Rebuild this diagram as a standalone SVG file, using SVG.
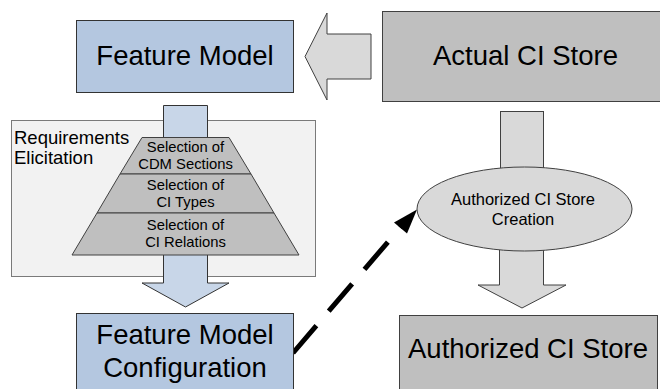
<svg xmlns="http://www.w3.org/2000/svg" width="660" height="389" viewBox="0 0 660 389">
<defs>
<style>
text{font-family:"Liberation Sans",Arial,sans-serif;fill:#000;text-anchor:middle}
.blue{fill:#b4c7e0;stroke:#333;stroke-width:1}
.gray{fill:#bfbfbf;stroke:#404040;stroke-width:1}
.lgray{fill:#d9d9d9;stroke:#404040;stroke-width:1}
.barrow{fill:#c8d6e8;stroke:#333;stroke-width:1}
.big{font-size:27.5px}
.pyr{font-size:14.8px}
</style>
</defs>
<rect width="660" height="389" fill="#fff"/>

<g id="requirements-elicitation">
<rect x="11.5" y="120.5" width="304" height="156" fill="#f2f2f2" stroke="#7a7a7a" stroke-width="1"/>
<text x="14" y="144" font-size="18.5" style="text-anchor:start">Requirements</text>
<text x="14" y="164" font-size="18.5" style="text-anchor:start">Elicitation</text>
</g>

<g id="connectors">
<polygon class="lgray" points="371,34 327,34 327,13 305,56.5 327,100 327,79 371,79"/>
<rect class="lgray" x="500.5" y="111.5" width="43" height="90"/>
<polygon class="lgray" points="499.5,235 543.5,235 543.5,285 566,285 522,308 478,285 499.5,285"/>
<polygon class="barrow" points="163.5,105.5 207.5,105.5 207.5,283 229,283 185.5,307 142,283 163.5,283"/>
<line x1="293" y1="353" x2="405" y2="222" stroke="#000" stroke-width="5" stroke-dasharray="36,19"/>
<polygon points="417,209.5 394,222.5 407,233.5" fill="#000"/>
</g>

<g id="pyramid">
<polygon class="gray" points="142,137.5 229,137.5 251,174 120,174"/>
<polygon class="gray" points="120,174 251,174 274,213 97,213"/>
<polygon class="gray" points="97,213 274,213 299,255 72,255"/>
<text class="pyr" x="185.5" y="152">Selection of</text>
<text class="pyr" x="185.5" y="169">CDM Sections</text>
<text class="pyr" x="185.5" y="190">Selection of</text>
<text class="pyr" x="185.5" y="207">CI Types</text>
<text class="pyr" x="185.5" y="230">Selection of</text>
<text class="pyr" x="185.5" y="247">CI Relations</text>
</g>

<g id="feature-model">
<rect class="blue" x="76.5" y="20.5" width="217" height="72"/>
<text class="big" x="185" y="65">Feature Model</text>
</g>

<g id="actual-ci-store">
<rect class="gray" x="382.5" y="11.5" width="290" height="90"/>
<text class="big" x="525.5" y="65">Actual CI Store</text>
</g>

<g id="authorized-ci-store-creation">
<ellipse class="lgray" cx="524.5" cy="209" rx="107.5" ry="42"/>
<text x="523" y="205" font-size="16.5">Authorized CI Store</text>
<text x="523" y="225" font-size="16.5">Creation</text>
</g>

<g id="feature-model-configuration">
<rect class="blue" x="76.5" y="313.5" width="217" height="90"/>
<text class="big" x="185" y="344">Feature Model</text>
<text class="big" x="185" y="377">Configuration</text>
</g>

<g id="authorized-ci-store">
<rect class="gray" x="399.5" y="315.5" width="258" height="90"/>
<text class="big" x="528" y="358">Authorized CI Store</text>
</g>
</svg>
